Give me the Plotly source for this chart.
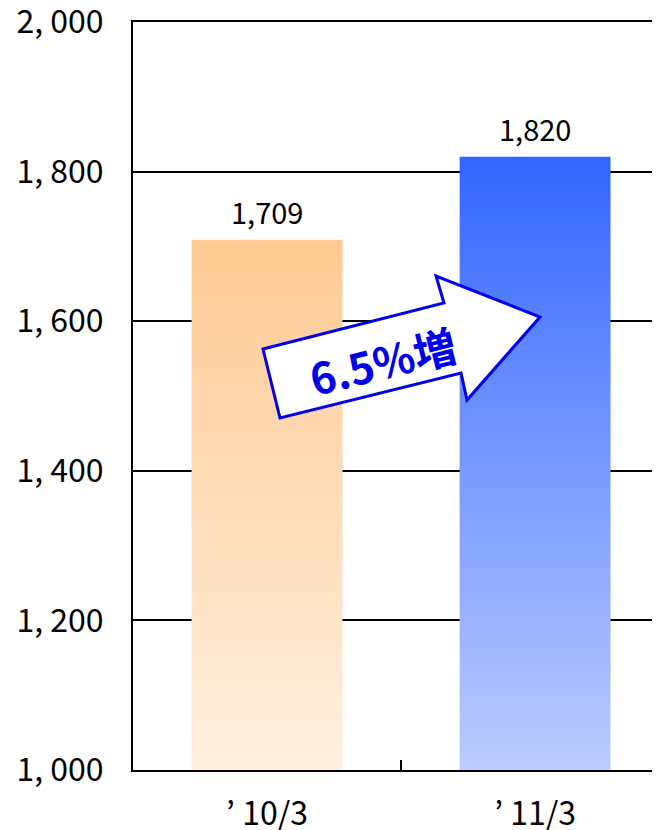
import plotly.graph_objects as go

# data
categories = ["’ 10/3", "’ 11/3"]
values = [1709, 1820]
y_ticks = [1000, 1200, 1400, 1600, 1800, 2000]
growth_label = "6.5%増"

# style
bar_width = 0.563
gradients = [
    [[0, "#FFF0E0"], [1, "#FFCA94"]],   # orange
    [[0, "#BCCCFF"], [1, "#3366FF"]],   # blue
]
base = y_ticks[0]
tick_font = dict(family="Noto Sans CJK JP", size=32, color="black")

fig = go.Figure()

for i, (cat, v, cs) in enumerate(zip(categories, values, gradients)):
    x0, x1 = i - bar_width / 2, i + bar_width / 2
    fig.add_trace(go.Scatter(
        x=[x0, x1, x1, x0, x0],
        y=[base, base, v, v, base],
        mode="lines",
        line=dict(width=0),
        fill="toself",
        fillgradient=dict(type="vertical", colorscale=cs),
        name=cat,
        hovertemplate=f"{cat}: {v:,}<extra></extra>",
        showlegend=False,
    ))
    # value label above the bar
    fig.add_annotation(
        x=i, y=v, text=f"{v:,}", showarrow=False,
        yanchor="bottom", yshift=6,
        font=dict(family="Noto Sans CJK JP", size=29, color="black"),
    )

# arrow shape (paper coordinates of the plot area)
arrow = [(0.2467, 0.5628), (0.5901, 0.6243), (0.5750, 0.6604), (0.7723, 0.6056),
         (0.6338, 0.4947), (0.6224, 0.5307), (0.2789, 0.4706)]
path = "M " + " L ".join(f"{x},{y}" for x, y in arrow) + " Z"
fig.add_shape(type="path", path=path, xref="paper", yref="paper", opacity=1,
              fillcolor="white", line=dict(color="#0000EE", width=3), layer="above")

fig.add_annotation(
    x=0.4725, y=0.548, xref="paper", yref="paper",
    text=growth_label, showarrow=False, textangle=-14,
    font=dict(family="Noto Sans CJK JP", size=43, color="#0000EE", weight="bold"),
)

fig.update_xaxes(
    range=[-0.5, 1.466],
    tickmode="array",
    tickvals=list(range(len(categories))),
    ticktext=categories,
    ticks="",
    tickfont=tick_font,
    showgrid=False,
    zeroline=False,
    showline=True, linecolor="black", linewidth=2, mirror=True,
    minor=dict(tickmode="array", tickvals=[0.5], ticks="inside", ticklen=10,
               tickwidth=2, tickcolor="black", showgrid=False),
    ticklabelstandoff=15,
    automargin=False,
)

fig.update_yaxes(
    range=[1000, 2000],
    tickmode="array",
    tickvals=y_ticks,
    ticktext=[f"{v:,}".replace(",", ", ") for v in y_ticks],
    ticks="",
    tickfont=tick_font,
    ticklabeloverflow="allow",
    showgrid=True, gridcolor="black", gridwidth=1.5,
    zeroline=False,
    showline=True, linecolor="black", linewidth=2,
    ticklabelstandoff=21,
    automargin=False,
)

# the page has an 8px body margin, so the figure is 8px smaller than the window
fig.update_layout(
    template="simple_white",
    width=652,
    height=822,
    margin=dict(l=125, r=0, t=14, b=60),
    plot_bgcolor="white",
    paper_bgcolor="white",
    showlegend=False,
)

fig.write_html("out.html")
